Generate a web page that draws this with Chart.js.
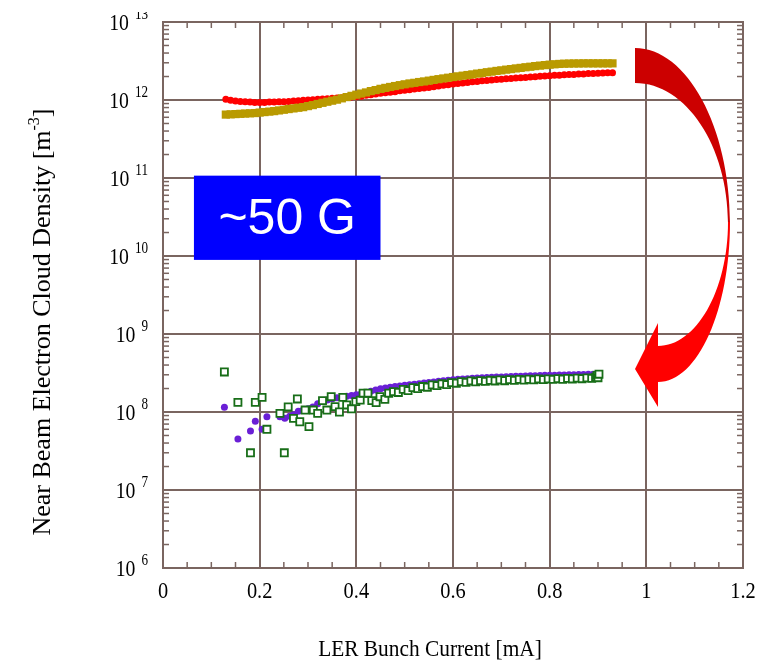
<!DOCTYPE html>
<html lang="en">
<head>
  <meta charset="UTF-8" />
  <title>Near Beam Electron Cloud Density</title>
  <script src="https://cdn.jsdelivr.net/npm/chart.js"></script>
  <style>
    body {
      margin: 0;
      background: #fff;
    }

    #chart-container {
      width: 765px;
      height: 661px;
      position: relative;
    }
  </style>
</head>
<body>
  <div id="chart-container">
    <canvas id="densityChart"></canvas>
  </div>

  <script>
    // axes
    const xTickValues = [0, 0.2, 0.4, 0.6, 0.8, 1, 1.2];
    const xTickLabels = ["0", "0.2", "0.4", "0.6", "0.8", "1", "1.2"];
    const yTickExponents = [6, 7, 8, 9, 10, 11, 12, 13];

    // red circles and gold squares share the same currents (upper group)
    const upperCurrent = [0.13, 0.14, 0.15, 0.16, 0.17, 0.18, 0.19, 0.20, 0.21, 0.22, 0.23, 0.24, 0.25, 0.26, 0.27, 0.28, 0.29,
      0.30, 0.31, 0.32, 0.33, 0.34, 0.35, 0.36, 0.37, 0.38, 0.39, 0.40, 0.41, 0.42, 0.43, 0.44, 0.45, 0.46, 0.47, 0.48, 0.49,
      0.50, 0.51, 0.52, 0.53, 0.54, 0.55, 0.56, 0.57, 0.58, 0.59, 0.60, 0.61, 0.62, 0.63, 0.64, 0.65, 0.66, 0.67, 0.68, 0.69,
      0.70, 0.71, 0.72, 0.73, 0.74, 0.75, 0.76, 0.77, 0.78, 0.79, 0.80, 0.81, 0.82, 0.83, 0.84, 0.85, 0.86, 0.87, 0.88, 0.89,
      0.90, 0.91, 0.92, 0.93];
    const redDensity = [1.02e12, 0.99e12, 0.97e12, 0.96e12, 0.95e12, 0.94e12, 0.93e12, 0.93e12, 0.93e12, 0.94e12, 0.94e12,
      0.95e12, 0.95e12, 0.96e12, 0.97e12, 0.98e12, 0.99e12, 1.00e12, 1.01e12, 1.02e12, 1.03e12, 1.04e12, 1.05e12, 1.06e12,
      1.07e12, 1.08e12, 1.09e12, 1.10e12, 1.12e12, 1.15e12, 1.17e12, 1.19e12, 1.22e12, 1.24e12, 1.26e12, 1.28e12, 1.31e12,
      1.33e12, 1.35e12, 1.38e12, 1.40e12, 1.43e12, 1.45e12, 1.48e12, 1.51e12, 1.54e12, 1.57e12, 1.60e12, 1.63e12, 1.65e12,
      1.68e12, 1.71e12, 1.73e12, 1.76e12, 1.78e12, 1.80e12, 1.83e12, 1.85e12, 1.87e12, 1.89e12, 1.91e12, 1.93e12, 1.95e12,
      1.97e12, 1.99e12, 2.01e12, 2.03e12, 2.05e12, 2.07e12, 2.08e12, 2.10e12, 2.12e12, 2.13e12, 2.15e12, 2.16e12, 2.18e12,
      2.19e12, 2.20e12, 2.22e12, 2.23e12, 2.24e12];
    const goldDensity = [0.65e12, 0.655e12, 0.66e12, 0.665e12, 0.67e12, 0.675e12, 0.68e12, 0.69e12, 0.70e12, 0.71e12, 0.72e12,
      0.735e12, 0.75e12, 0.765e12, 0.78e12, 0.795e12, 0.81e12, 0.835e12, 0.86e12, 0.89e12, 0.92e12, 0.95e12, 0.98e12, 1.01e12,
      1.05e12, 1.09e12, 1.13e12, 1.17e12, 1.21e12, 1.25e12, 1.30e12, 1.34e12, 1.39e12, 1.43e12, 1.47e12, 1.51e12, 1.55e12,
      1.59e12, 1.63e12, 1.66e12, 1.70e12, 1.73e12, 1.77e12, 1.81e12, 1.85e12, 1.89e12, 1.93e12, 1.97e12, 2.01e12, 2.05e12,
      2.09e12, 2.13e12, 2.18e12, 2.22e12, 2.27e12, 2.31e12, 2.36e12, 2.40e12, 2.45e12, 2.49e12, 2.54e12, 2.58e12, 2.63e12,
      2.67e12, 2.72e12, 2.76e12, 2.80e12, 2.84e12, 2.87e12, 2.90e12, 2.92e12, 2.93e12, 2.94e12, 2.94e12, 2.95e12, 2.95e12,
      2.95e12, 2.95e12, 2.95e12, 2.95e12, 2.95e12];

    // purple circles (lower group)
    const purpleCurrent = [0.127, 0.155, 0.181, 0.191, 0.205, 0.215, 0.242, 0.252, 0.262, 0.270, 0.280, 0.290, 0.300, 0.310,
      0.320, 0.330, 0.340, 0.350, 0.360, 0.370, 0.380, 0.390, 0.400, 0.41, 0.42, 0.43, 0.44, 0.45, 0.46, 0.47, 0.48, 0.49,
      0.50, 0.51, 0.52, 0.53, 0.54, 0.55, 0.56, 0.57, 0.58, 0.59, 0.60, 0.61, 0.62, 0.63, 0.64, 0.65, 0.66, 0.67, 0.68, 0.69,
      0.70, 0.71, 0.72, 0.73, 0.74, 0.75, 0.76, 0.77, 0.78, 0.79, 0.80, 0.81, 0.82, 0.83, 0.84, 0.85, 0.86, 0.87, 0.88, 0.89,
      0.90];
    const purpleDensity = [1.15e8, 0.45e8, 0.57e8, 0.76e8, 0.60e8, 0.87e8, 0.87e8, 0.83e8, 0.88e8, 0.92e8, 1.02e8, 1.06e8,
      1.10e8, 1.16e8, 1.28e8, 1.36e8, 1.42e8, 1.48e8, 1.52e8, 1.55e8, 1.59e8, 1.63e8, 1.67e8, 1.72e8, 1.78e8, 1.85e8, 1.92e8,
      1.98e8, 2.03e8, 2.07e8, 2.12e8, 2.16e8, 2.20e8, 2.23e8, 2.27e8, 2.31e8, 2.35e8, 2.39e8, 2.43e8, 2.47e8, 2.52e8, 2.56e8,
      2.60e8, 2.63e8, 2.65e8, 2.67e8, 2.70e8, 2.72e8, 2.74e8, 2.76e8, 2.78e8, 2.80e8, 2.82e8, 2.84e8, 2.85e8, 2.87e8, 2.88e8,
      2.90e8, 2.91e8, 2.92e8, 2.93e8, 2.95e8, 2.96e8, 2.97e8, 2.98e8, 2.99e8, 3.00e8, 3.01e8, 3.02e8, 3.03e8, 3.04e8, 3.05e8,
      3.06e8];

    // green open squares (lower group)
    const greenCurrent = [0.127, 0.155, 0.181, 0.191, 0.205, 0.215, 0.242, 0.251, 0.259, 0.270, 0.278, 0.283, 0.294, 0.302,
      0.311, 0.320, 0.330, 0.339, 0.348, 0.356, 0.365, 0.372, 0.380, 0.390, 0.399, 0.408, 0.414, 0.424, 0.432, 0.441, 0.449,
      0.459, 0.467, 0.477, 0.487, 0.497, 0.507, 0.517, 0.527, 0.537, 0.547, 0.557, 0.567, 0.577, 0.587, 0.597, 0.607, 0.617,
      0.627, 0.637, 0.647, 0.657, 0.667, 0.677, 0.687, 0.697, 0.707, 0.717, 0.727, 0.737, 0.747, 0.757, 0.767, 0.777, 0.787,
      0.797, 0.807, 0.817, 0.827, 0.837, 0.847, 0.857, 0.867, 0.877, 0.887, 0.895, 0.898, 0.900, 0.902];
    const greenDensity = [3.26e8, 1.33e8, 0.30e8, 1.33e8, 1.54e8, 0.60e8, 0.96e8, 0.30e8, 1.16e8, 0.83e8, 1.47e8, 0.75e8,
      1.06e8, 0.65e8, 1.06e8, 0.96e8, 1.40e8, 1.06e8, 1.57e8, 1.17e8, 1.00e8, 1.54e8, 1.23e8, 1.10e8, 1.36e8, 1.42e8, 1.74e8,
      1.74e8, 1.40e8, 1.32e8, 1.57e8, 1.45e8, 1.74e8, 1.82e8, 1.78e8, 1.95e8, 1.88e8, 2.05e8, 2.00e8, 2.12e8, 2.08e8, 2.22e8,
      2.18e8, 2.30e8, 2.25e8, 2.38e8, 2.34e8, 2.45e8, 2.40e8, 2.50e8, 2.44e8, 2.52e8, 2.47e8, 2.55e8, 2.50e8, 2.58e8, 2.52e8,
      2.60e8, 2.54e8, 2.62e8, 2.56e8, 2.63e8, 2.58e8, 2.65e8, 2.60e8, 2.66e8, 2.62e8, 2.68e8, 2.63e8, 2.70e8, 2.65e8, 2.72e8,
      2.67e8, 2.74e8, 2.70e8, 2.80e8, 2.95e8, 2.75e8, 3.05e8];

    const gridColor = "#7a6560";
    const serif = '"Liberation Serif", "Times New Roman", serif';
    const sans = '"Liberation Sans", Arial, sans-serif';

    function toPoints(xs, ys) {
      return xs.map((x, i) => ({ x: x, y: ys[i] }));
    }

    // squeezed text, like the narrow Times of the original
    function squeezedText(ctx, text, x, y, font, align, squeeze) {
      ctx.save();
      ctx.font = font;
      const w = ctx.measureText(text).width * squeeze;
      let left = x;
      if (align === "right") left = x - w;
      if (align === "center") left = x - w / 2;
      ctx.translate(left, y);
      ctx.scale(squeeze, 1);
      ctx.textAlign = "left";
      ctx.textBaseline = "alphabetic";
      ctx.fillText(text, 0, 0);
      ctx.restore();
      return w;
    }

    function line(ctx, x1, y1, x2, y2) {
      ctx.beginPath();
      ctx.moveTo(x1, y1);
      ctx.lineTo(x2, y2);
      ctx.stroke();
    }

    const decorations = {
      id: "decorations",
      afterDraw(chart) {
        const ctx = chart.ctx;
        const x = chart.scales.x;
        const y = chart.scales.y;
        const { left, right, top, bottom } = chart.chartArea;

        ctx.save();
        ctx.strokeStyle = gridColor;

        // minor ticks, inside the frame
        ctx.lineWidth = 1.5;
        yTickExponents.slice(0, -1).forEach(e => {
          for (let m = 2; m <= 9; m++) {
            const py = y.getPixelForValue(m * Math.pow(10, e));
            line(ctx, left, py, left + 6, py);
            line(ctx, right - 6, py, right, py);
          }
        });
        for (let i = 1; i < 24; i++) {
          if (i % 4 === 0) continue;
          const px = x.getPixelForValue(i * 0.05);
          line(ctx, px, bottom, px, bottom - 6);
          line(ctx, px, top, px, top + 6);
        }

        // frame
        ctx.lineWidth = 2;
        ctx.strokeRect(left, top, right - left, bottom - top);

        // tick labels
        ctx.fillStyle = "#000";
        ctx.beginPath();
        ctx.rect(0, 12, chart.width, chart.height);
        ctx.clip();
        yTickExponents.forEach(e => {
          const py = y.getPixelForValue(Math.pow(10, e));
          const ew = squeezedText(ctx, String(e), 148, py - 3, "16px " + serif, "right", 0.82);
          squeezedText(ctx, "10", 148 - ew - 6, py + 8, "24px " + serif, "right", 0.82);
        });
        xTickValues.forEach((v, i) => {
          squeezedText(ctx, xTickLabels[i], x.getPixelForValue(v), 598, "24px " + serif, "center", 0.85);
        });

        // axis titles
        squeezedText(ctx, "LER Bunch Current [mA]", 430, 656, "24px " + serif, "center", 0.89);

        ctx.save();
        ctx.translate(50, 322);
        ctx.rotate(-Math.PI / 2);
        ctx.font = "26px " + serif;
        const mainText = "Near Beam Electron Cloud Density [m";
        const w1 = ctx.measureText(mainText).width;
        ctx.font = "16px " + serif;
        const w2 = ctx.measureText("-3").width;
        ctx.font = "26px " + serif;
        const w3 = ctx.measureText("]").width;
        const start = -(w1 + w2 + w3) / 2;
        ctx.textAlign = "left";
        ctx.fillText(mainText, start, 0);
        ctx.font = "16px " + serif;
        ctx.fillText("-3", start + w1, -11);
        ctx.font = "26px " + serif;
        ctx.fillText("]", start + w1 + w2, 0);
        ctx.restore();

        // "~50 G" label box
        const bx1 = x.getPixelForValue(0.064);
        const bx2 = x.getPixelForValue(0.45);
        const by1 = y.getPixelForValue(Math.pow(10, 11.03));
        const by2 = y.getPixelForValue(Math.pow(10, 9.95));
        ctx.fillStyle = "#0000ff";
        ctx.fillRect(bx1, by1, bx2 - bx1, by2 - by1);
        ctx.fillStyle = "#fff";
        ctx.font = "50px " + sans;
        ctx.textAlign = "center";
        ctx.textBaseline = "middle";
        ctx.fillText("~50 G", (bx1 + bx2) / 2, (by1 + by2) / 2 + 2);

        // curved arrow from the upper group down to the lower one
        ctx.fillStyle = "#cc0000";
        ctx.beginPath();
        ctx.moveTo(635, 48);
        ctx.bezierCurveTo(687, 48, 730, 127, 730, 223);
        ctx.lineTo(728, 223);
        ctx.bezierCurveTo(728, 146, 686, 83, 635, 83);
        ctx.closePath();
        ctx.fill();

        ctx.fillStyle = "#ff0000";
        ctx.beginPath();
        ctx.moveTo(728, 222);
        ctx.lineTo(730, 222);
        ctx.bezierCurveTo(730, 310, 698, 382, 658, 382);
        ctx.lineTo(658, 407);
        ctx.lineTo(635, 369);
        ctx.lineTo(658, 323);
        ctx.lineTo(658, 346);
        ctx.bezierCurveTo(696, 346, 728, 291, 728, 222);
        ctx.closePath();
        ctx.fill();

        ctx.restore();
      }
    };

    const ctx = document.getElementById("densityChart").getContext("2d");
    const densityChart = new Chart(ctx, {
      type: "scatter",
      data: {
        datasets: [
          {
            label: "red",
            data: toPoints(upperCurrent, redDensity),
            pointStyle: "circle",
            pointRadius: 3.5,
            pointBackgroundColor: "#ff0000",
            pointBorderWidth: 0,
            order: 4
          },
          {
            label: "gold",
            data: toPoints(upperCurrent, goldDensity),
            pointStyle: "rect",
            pointRadius: 5.8,
            pointBackgroundColor: "#b99a00",
            pointBorderWidth: 0,
            order: 3
          },
          {
            label: "purple",
            data: toPoints(purpleCurrent, purpleDensity),
            pointStyle: "circle",
            pointRadius: 3.5,
            pointBackgroundColor: "#6a1fd6",
            pointBorderWidth: 0,
            order: 2
          },
          {
            label: "green",
            data: toPoints(greenCurrent, greenDensity),
            pointStyle: "rect",
            pointRadius: 5,
            pointBackgroundColor: "#ffffff",
            pointBorderColor: "#186e18",
            pointBorderWidth: 1.8,
            order: 1
          }
        ]
      },
      options: {
        responsive: true,
        maintainAspectRatio: false,
        animation: false,
        layout: {
          padding: { top: 22, right: 22, left: 0, bottom: 0 }
        },
        plugins: {
          legend: { display: false },
          tooltip: { enabled: false }
        },
        scales: {
          x: {
            type: "linear",
            min: 0,
            max: 1.2,
            ticks: { display: false },
            afterBuildTicks: scale => {
              scale.ticks = xTickValues.map(v => ({ value: v }));
            },
            grid: { color: gridColor, lineWidth: 2, drawTicks: false },
            border: { display: false },
            afterFit: scale => { scale.height = 93; }
          },
          y: {
            type: "logarithmic",
            min: 1e6,
            max: 1e13,
            ticks: { display: false },
            afterBuildTicks: scale => {
              scale.ticks = yTickExponents.map(e => ({ value: Math.pow(10, e) }));
            },
            grid: { color: gridColor, lineWidth: 2, drawTicks: false },
            border: { display: false },
            afterFit: scale => { scale.height; scale.width = 163; }
          }
        }
      },
      plugins: [decorations]
    });
  </script>
</body>
</html>
